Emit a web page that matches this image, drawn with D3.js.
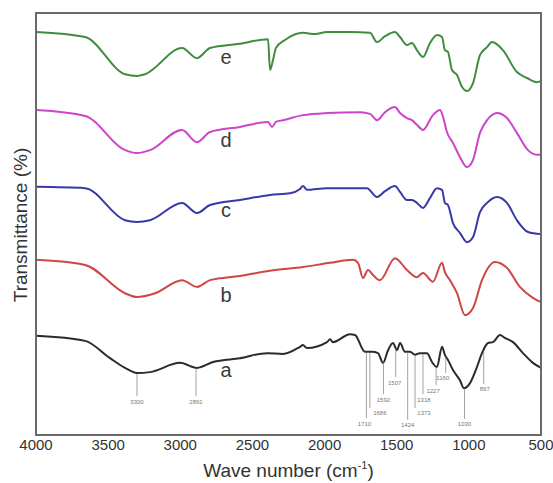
<!DOCTYPE html>
<html>
<head>
<meta charset="utf-8">
<script src="https://cdn.jsdelivr.net/npm/d3@7/dist/d3.min.js"></script>
<style>
  body { margin: 0; background: #fff; }
  text { font-family: "Liberation Sans", Arial, sans-serif; }
</style>
</head>
<body>
<svg id="chart"></svg>
<script>
const width = 553;
const height = 483;

// x ticks (wave number, cm-1)
const xTicks = [4000, 3500, 3000, 2500, 2000, 1500, 1000, 500];

// spectra: [wave number, transmittance (stacked, a.u.)]
const seriesE = [[4000,95.5],[3660,94.3],[3383,85.5],[3300,85.1],[3245,85.5],[2988,91.7],[2884,89.3],[2794,91.7],[2586,92.7],[2392,93.8],[2378,86.5],[2357,88.9],[2337,91.7],[2274,93.6],[2150,95.3],[2066,95.0],[1983,95.5],[1824,95.5],[1685,95.3],[1637,93.1],[1581,94.5],[1512,95.5],[1477,94.3],[1429,92.4],[1394,92.9],[1360,91.2],[1318,89.6],[1269,92.9],[1221,94.8],[1186,94.3],[1166,91.2],[1145,90.8],[1117,86.5],[1082,85.3],[1048,82.5],[1013,81.5],[971,83.4],[923,90.0],[874,91.9],[840,93.1],[764,91.2],[667,86.0],[597,84.6],[528,83.6],[500,83.9]];
const seriesD = [[4000,77.0],[3660,75.6],[3383,67.5],[3300,66.8],[3210,67.5],[2988,72.3],[2884,69.4],[2794,71.8],[2586,73.0],[2392,74.2],[2364,73.0],[2337,74.2],[2288,74.6],[2150,75.8],[1983,76.3],[1754,76.5],[1685,76.1],[1637,74.6],[1581,76.5],[1512,77.7],[1477,76.3],[1429,75.1],[1394,74.6],[1360,73.5],[1318,72.3],[1249,75.8],[1200,77.0],[1179,75.4],[1152,71.8],[1110,69.2],[1062,65.9],[1013,63.5],[971,65.2],[923,71.6],[874,74.6],[805,76.3],[736,75.1],[667,71.6],[590,67.5],[528,66.4],[500,66.4]];
const seriesC = [[4000,58.8],[3660,58.5],[3383,50.9],[3300,50.5],[3210,50.9],[2988,55.0],[2884,52.6],[2794,54.5],[2586,55.7],[2378,56.9],[2240,57.3],[2170,58.3],[2150,59.0],[2122,58.1],[1983,58.5],[1706,58.5],[1637,56.4],[1581,57.8],[1512,59.0],[1477,57.6],[1429,55.7],[1394,55.7],[1360,55.0],[1318,53.8],[1269,56.2],[1221,58.5],[1186,58.1],[1166,55.0],[1145,54.5],[1110,50.2],[1062,47.9],[1013,45.7],[971,46.9],[923,52.8],[874,55.0],[805,56.4],[736,55.0],[667,50.9],[590,48.1],[500,47.6]];
const seriesB = [[4000,41.5],[3660,40.3],[3383,33.6],[3300,32.7],[3175,33.6],[2988,36.7],[2884,35.1],[2794,36.7],[2586,37.7],[2378,38.9],[2150,39.8],[1962,40.8],[1803,41.5],[1768,40.8],[1734,37.2],[1699,39.1],[1664,37.9],[1616,36.7],[1512,41.9],[1429,39.1],[1360,37.4],[1318,38.4],[1249,36.3],[1186,40.8],[1166,38.6],[1131,36.7],[1082,33.6],[1027,28.4],[971,30.1],[909,36.7],[819,41.0],[736,39.6],[646,35.1],[556,32.5],[500,31.5]];
const seriesA = [[4000,23.5],[3660,22.3],[3487,18.2],[3383,15.9],[3300,14.7],[3210,14.9],[3002,17.1],[2884,15.9],[2773,17.3],[2586,18.2],[2399,19.4],[2288,19.2],[2170,20.9],[2150,21.3],[2122,20.6],[1983,22.0],[1962,22.7],[1942,22.0],[1824,23.9],[1789,23.7],[1720,19.7],[1671,19.7],[1630,19.4],[1595,17.1],[1560,20.1],[1526,21.8],[1498,20.1],[1477,21.8],[1443,19.7],[1408,19.7],[1373,19.0],[1339,19.4],[1290,19.4],[1256,17.3],[1221,16.1],[1186,20.9],[1166,19.0],[1145,17.8],[1110,15.4],[1062,13.0],[1034,11.1],[992,12.3],[944,16.1],[909,19.4],[867,21.8],[833,22.0],[784,23.7],[750,23.0],[694,22.0],[625,19.4],[556,17.1],[500,15.9]];

const seriesNames = ["a", "b", "c", "d", "e"];
const seriesData = [seriesA, seriesB, seriesC, seriesD, seriesE];
const seriesColors = ["#2b2b2b", "#cf4545", "#3838a8", "#cc44cc", "#3f8c3f"];
// where each letter sits: [wave number, value]
const letterAt = [[2683,13.7],[2683,31.5],[2683,51.7],[2683,68.2],[2683,87.9]];

// peak marks on spectrum a: wave number, bottom of the drop line (value), label shift
const peakWaves = [3300, 2891, 1710, 1686, 1592, 1507, 1424, 1373, 1318, 1227, 1160, 1030, 897];
const peakBottoms = [9.2, 9.2, 4.0, 6.4, 9.7, 13.7, 3.6, 6.4, 9.7, 11.8, 14.7, 3.8, 12.1];
const peakShift = [0, 0, -2, 10, 0, -1, 0, 9, 1, -3, -3, 0, 1];

const margin = {left: 36, top: 13, right: 12, bottom: 48};

const svg = d3.select("#chart")
    .attr("width", width)
    .attr("height", height);

const x = d3.scaleLinear()
    .domain([4000, 500])
    .range([margin.left, width - margin.right - 0]);

const y = d3.scaleLinear()
    .domain([0, 100])
    .range([height - margin.bottom, margin.top]);

const line = d3.line()
    .x(d => x(d[0]))
    .y(d => y(d[1]))
    .curve(d3.curveMonotoneX);

// spectra
svg.selectAll(".spectrum")
    .data(seriesData)
    .enter().append("path")
    .attr("class", "spectrum")
    .attr("d", line)
    .attr("fill", "none")
    .attr("stroke", (d, i) => seriesColors[i])
    .attr("stroke-width", 2)
    .attr("stroke-linejoin", "round");

// letters
svg.selectAll(".letter")
    .data(seriesNames)
    .enter().append("text")
    .attr("class", "letter")
    .attr("x", (d, i) => x(letterAt[i][0]))
    .attr("y", (d, i) => y(letterAt[i][1]))
    .attr("text-anchor", "middle")
    .attr("font-size", 20)
    .attr("fill", "#3a3a3a")
    .text(d => d);

// value of spectrum a at a given wave number
const bis = d3.bisector(d => -d[0]).left;
function valueAt(series, w) {
    const i = bis(series, -w);
    if (i <= 0) return series[0][1];
    if (i >= series.length) return series[series.length - 1][1];
    const p = series[i - 1], q = series[i];
    const t = (w - p[0]) / (q[0] - p[0]);
    return p[1] + t * (q[1] - p[1]);
}

const peaks = svg.append("g");
peakWaves.forEach((w, i) => {
    peaks.append("line")
        .attr("x1", x(w)).attr("x2", x(w))
        .attr("y1", y(valueAt(seriesA, w)) + 1)
        .attr("y2", y(peakBottoms[i]))
        .attr("stroke", "#8a8a8a")
        .attr("stroke-width", 0.8);
    peaks.append("text")
        .attr("x", x(w) + peakShift[i])
        .attr("y", y(peakBottoms[i]) + 7.5)
        .attr("text-anchor", "middle")
        .attr("font-size", 6)
        .attr("fill", "#777")
        .text(w);
});

// frame
svg.append("rect")
    .attr("x", margin.left)
    .attr("y", margin.top)
    .attr("width", x(500) - margin.left)
    .attr("height", y(0) - margin.top)
    .attr("fill", "none")
    .attr("stroke", "#6a6a6a")
    .attr("stroke-width", 2);

// x tick labels
svg.selectAll(".xtick")
    .data(xTicks)
    .enter().append("text")
    .attr("class", "xtick")
    .attr("x", d => x(d))
    .attr("y", y(0) + 15)
    .attr("text-anchor", "middle")
    .attr("font-size", 15)
    .attr("fill", "#333")
    .text(d => d);

// axis titles
const xt = svg.append("text")
    .attr("x", (margin.left + x(500)) / 2)
    .attr("y", 477)
    .attr("text-anchor", "middle")
    .attr("font-size", 19)
    .attr("fill", "#333");
xt.append("tspan").text("Wave number (cm");
xt.append("tspan").attr("font-size", 11).attr("dy", -8).text("-1");
xt.append("tspan").attr("dy", 8).text(")");

svg.append("text")
    .attr("transform", "translate(27,225) rotate(-90)")
    .attr("text-anchor", "middle")
    .attr("font-size", 19)
    .attr("fill", "#333")
    .text("Transmittance (%)");
</script>
</body>
</html>
